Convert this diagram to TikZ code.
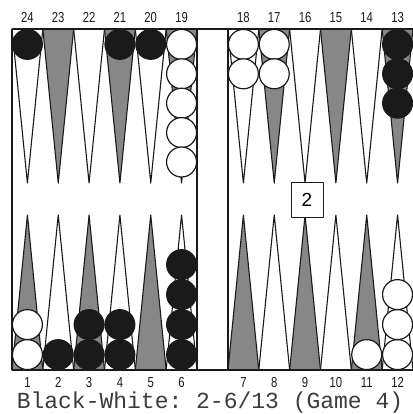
\documentclass[tikz,border=0pt]{standalone}
\usepackage{fontspec}
\setmainfont{Liberation Sans}
\setmonofont{Liberation Mono}
\definecolor{ink}{HTML}{1A1A1A}
\definecolor{stipple}{HTML}{878787}

\begin{document}
\begin{tikzpicture}[x=1pt,y=-1pt,line join=round,
 pip/.style={draw=ink,line width=1.1pt},dark/.style={pip,fill=stipple},light/.style={pip,fill=white},
 blackman/.style={draw=ink,fill=ink,line width=1pt},whiteman/.style={draw=ink,fill=white,line width=1.2pt},
 rim/.style={draw=ink,line width=1.4pt},
 num/.style={font=\fontsize{14.5}{15}\selectfont,xscale=.78,inner sep=0pt,anchor=base,text=ink},
 cube/.style={draw=ink,fill=white,line width=1pt,minimum width=32pt,minimum height=35pt,inner sep=0pt,font=\fontsize{19}{19}\selectfont}]
 \useasboundingbox (0,0) rectangle (412,414);
 % points: white on top for even columns, grey on top for odd ones
 \foreach \c in {0,2,...,10} {\pgfmathsetmacro\px{12+30.83*(\c+.5)+31*(\c>5)}
  \draw[light] (\px-15.42,29) -- (\px,183) -- (\px+15.42,29) -- cycle;
  \draw[dark] (\px-15.42,370) -- (\px,215) -- (\px+15.42,370) -- cycle;}
 \foreach \c in {1,3,...,11} {\pgfmathsetmacro\px{12+30.83*(\c+.5)+31*(\c>5)}
  \draw[dark] (\px-15.42,29) -- (\px,183) -- (\px+15.42,29) -- cycle;
  \draw[light] (\px-15.42,370) -- (\px,215) -- (\px+15.42,370) -- cycle;}
 % checkers
 \foreach \c/\n/\s in {0/1/blackman,3/1/blackman,4/1/blackman,5/5/whiteman,6/2/whiteman,7/2/whiteman,11/3/blackman}
  \foreach \j in {1,...,\n} \draw[\s] ({12+30.83*(\c+.5)+31*(\c>5)},{44.4+29.4*(\j-1)}) circle[radius=15pt];
 \foreach \c/\n/\s in {0/2/whiteman,1/1/blackman,2/2/blackman,3/2/blackman,5/4/blackman,10/1/whiteman,11/3/whiteman}
  \foreach \j in {1,...,\n} \draw[\s] ({12+30.83*(\c+.5)+31*(\c>5)},{354.6-30*(\j-1)}) circle[radius=15pt];
 % frame and bar
 \draw[rim] (12,29) -- (12,370); \draw[rim] (197,29) -- (197,370); \draw[rim] (228,29) -- (228,370);
 \draw[rim] (12,29) -- (414,29); \draw[rim] (12,370) -- (414,370);
 % point numbers
 \foreach \c in {0,...,11} {\pgfmathsetmacro\px{12+30.83*(\c+.5)+31*(\c>5)}
  \pgfmathtruncatemacro\up{24-\c} \pgfmathtruncatemacro\dn{\c+1}
  \node[num] (t\up) at (\px,22.5) {\up}; \node[num] (b\dn) at (\px,387) {\dn};}
 \node[cube] (cube) at (307,199.5) {2};
 \node[font=\ttfamily\fontsize{23}{23}\selectfont,text=ink!85,inner sep=0pt,anchor=base] (caption) at (210,408) {Black-White: 2-6/13 (Game 4)};
\end{tikzpicture}
\end{document}
